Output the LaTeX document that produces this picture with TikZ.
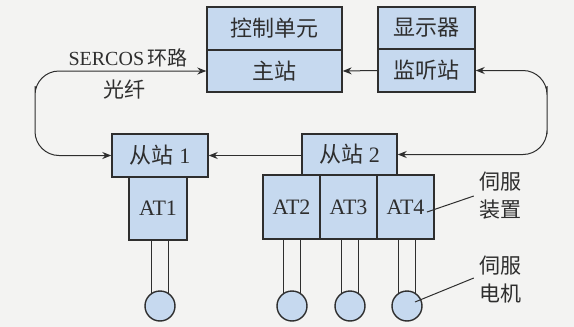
\documentclass[tikz,border=0pt]{standalone}
\usepackage{fontspec}
\setmainfont{Liberation Serif}
\newfontfamily\cjk{Noto Sans CJK SC}
\usetikzlibrary{arrows.meta}
\definecolor{bg}{HTML}{F3F3F2}
\definecolor{boxfill}{HTML}{C6D9EF}
\definecolor{ink}{HTML}{2E2E2E}
\begin{document}
\begin{tikzpicture}[x=1pt,y=-1pt,
  box/.style={draw=ink,fill=boxfill,line width=1.4pt,inner sep=0pt,text=ink,font=\fontsize{22}{24}\selectfont},
  lab/.style={text=ink,inner sep=0pt,font=\fontsize{21}{28}\selectfont,align=center},
  conn/.style={draw=ink,line width=1pt},
  tip/.style={-{Stealth[length=9pt,width=7pt]}},
  motor/.style={circle,draw=ink,fill=boxfill,line width=1.4pt,minimum size=30pt,inner sep=0pt}]
\fill[bg] (0,0) rectangle (574,327);
\useasboundingbox (0,0) rectangle (574,327);
% top boxes
\node[box,minimum width=135pt,minimum height=43pt] (ctrl) at (274.5,28.5) {\cjk 控制单元};
\node[box,minimum width=135pt,minimum height=42pt] (zhu) at (274.5,71) {\cjk 主站};
\node[box,minimum width=97pt,minimum height=42pt] (disp) at (426.5,28) {\cjk 显示器};
\node[box,minimum width=97pt,minimum height=43pt] (jt) at (426.5,70.5) {\cjk 监听站};
% slaves
\node[box,minimum width=96pt,minimum height=43pt] (s1) at (160,155.5) {{\cjk 从站} 1};
\node[box,minimum width=58pt,minimum height=63pt] (at1) at (158,208.5) {AT1};
\node[box,minimum width=95pt,minimum height=41pt] (s2) at (349.5,154.5) {{\cjk 从站} 2};
\node[box,minimum width=57pt,minimum height=64pt] (at2) at (291.5,207) {AT2};
\node[box,minimum width=57pt,minimum height=64pt] (at3) at (348.5,207) {AT3};
\node[box,minimum width=57pt,minimum height=64pt] (at4) at (405.5,207) {AT4};
% motors
\node[motor] (m1) at (160,306) {};
\node[motor] (m2) at (292,306) {};
\node[motor] (m3) at (350,306) {};
\node[motor] (m4) at (407,306) {};
\foreach \a/\m in {at1/m1,at2/m2,at3/m3,at4/m4}{
  \draw[conn,line width=1.3pt] (\m.122 |- \a.south) -- (\m.122);
  \draw[conn,line width=1.3pt] (\m.58 |- \a.south) -- (\m.58);
}
% ring
\coordinate (lc) at (35,110);
\coordinate (rc) at (547,110);
\draw[conn,{Stealth[length=9pt,width=7pt]}-{Stealth[length=9pt,width=7pt]},rounded corners=24pt] (s1.west) -| (lc) |- (zhu.west);
\draw[conn,{Stealth[length=9pt,width=7pt]}-{Stealth[length=9pt,width=7pt]},rounded corners=24pt] (s2.east) -| (rc) |- (jt.east);
\draw[conn,tip] (s2.west |- s1.east) -- (s1.east);
\draw[conn,tip] (jt.west) -- (zhu.east);
% labels
\node[lab,font=\fontsize{20}{24}\selectfont] (ring) at (128,58) {SERCOS\,{\cjk 环路}};
\node[lab] (fiber) at (124,90) {\cjk 光纤};
\node[lab] (fz) at (500,196) {\cjk 伺服\\\cjk 装置};
\node[lab] (fd) at (500,280) {\cjk 伺服\\\cjk 电机};
\coordinate (l1) at (427,212);
\coordinate (l2) at (415,302);
\draw[conn] (l1) -- ([xshift=-5pt,yshift=0pt]fz.west);
\draw[conn] (l2) -- ([xshift=-5pt,yshift=2pt]fd.west);
\end{tikzpicture}
\end{document}
